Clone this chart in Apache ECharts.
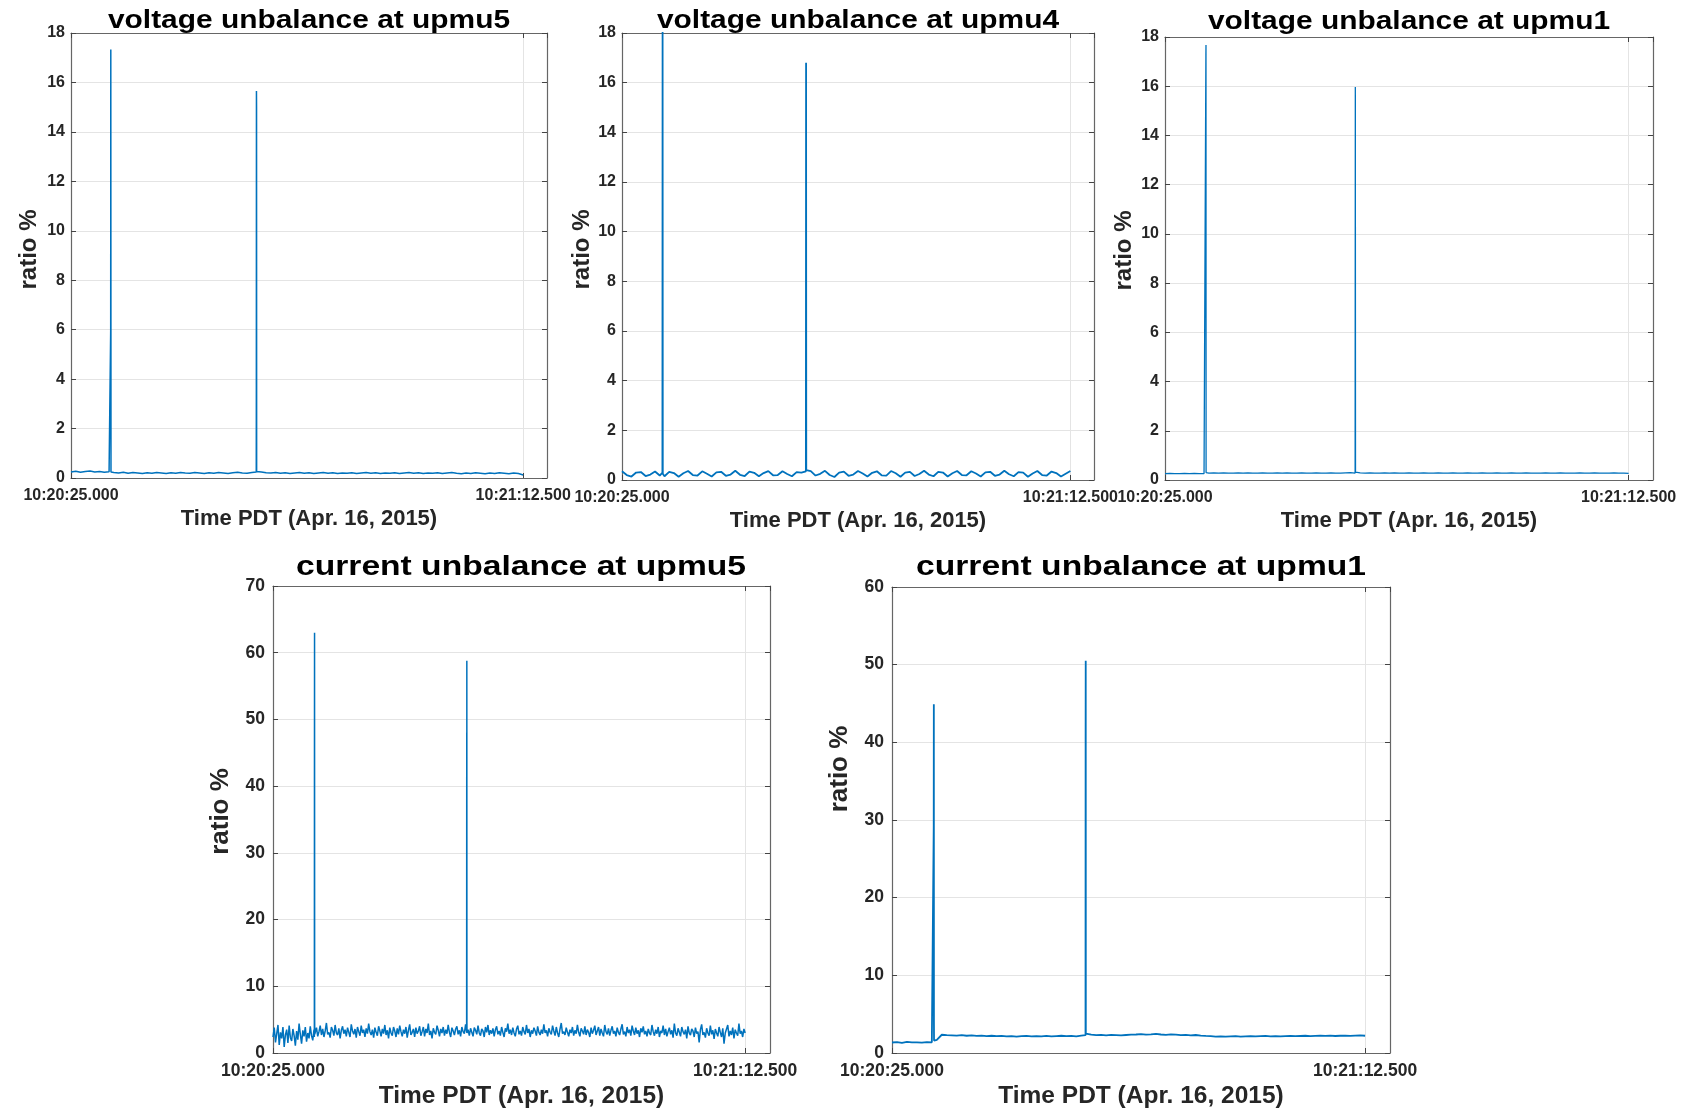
<!DOCTYPE html>
<html>
<head>
<meta charset="utf-8">
<title>unbalance at upmu</title>
<script src="https://cdn.jsdelivr.net/npm/echarts@6/dist/echarts.min.js"></script>
<style>
html, body { margin: 0; padding: 0; background: #fff; }
#main { width: 1689px; height: 1110px; }
</style>
</head>
<body>
<div id="main"></div>
<script>
// time is seconds after 10:20:25.000, baselines are read at a fixed step
var dtSlow = 0.5;
var dtFast = 0.125;
var xTickValues = [0, 47.5];
var xTickLabels = ['10:20:25.000', '10:21:12.500'];

var titles = [
    'voltage unbalance at upmu5',
    'voltage unbalance at upmu4',
    'voltage unbalance at upmu1',
    'current unbalance at upmu5',
    'current unbalance at upmu1'
];
var yMax = [18, 18, 18, 70, 60];
var yStep = [2, 2, 2, 10, 10];

var vu5Base = [
    0.24,0.27,0.23,0.26,0.28,0.24,0.26,0.23,0.25,0.22,
    0.2,0.23,0.19,0.22,0.2,0.18,0.21,0.19,0.22,0.2,
    0.18,0.21,0.19,0.22,0.2,0.19,0.22,0.2,0.18,0.21,
    0.19,0.22,0.2,0.18,0.21,0.23,0.2,0.19,0.22,0.26,
    0.24,0.21,0.2,0.22,0.19,0.21,0.18,0.2,0.22,0.19,
    0.21,0.18,0.2,0.22,0.19,0.21,0.18,0.2,0.19,0.21,
    0.18,0.2,0.22,0.19,0.21,0.18,0.2,0.19,0.21,0.18,
    0.2,0.22,0.19,0.21,0.18,0.2,0.19,0.21,0.18,0.2,
    0.22,0.19,0.17,0.2,0.18,0.21,0.19,0.17,0.2,0.18,
    0.21,0.19,0.17,0.2,0.18,0.12
];
var vu5Spikes = [
    [4.16, 0.25], [4.17, 6.0], [4.18, 17.33], [4.19, 8.8], [4.2, 0.24],
    [19.46, 0.24], [19.47, 3.8], [19.48, 15.65], [19.49, 15.0], [19.51, 0.26]
];

var vu4Base = [
    0.35,0.2,0.14,0.3,0.32,0.16,0.22,0.34,0.18,0.15,
    0.33,0.28,0.13,0.27,0.36,0.2,0.18,0.35,0.25,0.14,
    0.31,0.33,0.17,0.22,0.37,0.21,0.16,0.34,0.29,0.15,
    0.28,0.36,0.19,0.2,0.35,0.24,0.15,0.32,0.3,0.4,
    0.36,0.18,0.25,0.37,0.2,0.12,0.3,0.34,0.17,0.22,
    0.36,0.26,0.14,0.29,0.35,0.19,0.18,0.36,0.27,0.13,
    0.3,0.33,0.16,0.24,0.37,0.22,0.15,0.33,0.3,0.14,
    0.27,0.36,0.2,0.19,0.35,0.26,0.14,0.31,0.33,0.17,
    0.22,0.37,0.23,0.15,0.32,0.3,0.13,0.26,0.36,0.2,
    0.18,0.34,0.28,0.14,0.25,0.36
];
var vu4Spikes = [
    [4.28, 0.3], [4.3, 18.4], [4.32, 0.25],
    [19.48, 0.35], [19.5, 16.8], [19.52, 0.4]
];

var vu1Base = [
    0.26,0.27,0.26,0.26,0.27,0.26,0.27,0.26,0.26,0.28,
    0.29,0.28,0.29,0.28,0.28,0.29,0.28,0.29,0.28,0.28,
    0.29,0.28,0.28,0.29,0.28,0.29,0.28,0.28,0.29,0.28,
    0.28,0.29,0.28,0.28,0.29,0.28,0.28,0.29,0.3,0.3,
    0.29,0.28,0.29,0.28,0.28,0.29,0.28,0.29,0.28,0.28,
    0.29,0.28,0.28,0.29,0.28,0.28,0.29,0.28,0.28,0.29,
    0.28,0.28,0.29,0.28,0.28,0.29,0.28,0.28,0.29,0.28,
    0.28,0.29,0.28,0.28,0.29,0.28,0.28,0.28,0.29,0.28,
    0.28,0.29,0.28,0.28,0.28,0.29,0.28,0.28,0.29,0.28,
    0.28,0.28,0.29,0.28,0.28,0.27
];
var vu1Spikes = [
    [4.18, 0.26], [4.19, 17.3], [4.2, 17.67], [4.21, 0.3],
    [19.48, 0.28], [19.5, 15.97], [19.52, 0.32]
];

var cu5Base = [
    2.4,3.8,1.6,2.9,4.2,1.2,3.1,2.2,3.9,0.9,2.7,3.5,1.5,4.1,2.3,1.8,3.6,2.6,1.1,3.3,
    2.0,4.4,2.8,1.4,3.4,2.5,3.9,1.7,3.0,2.2,4.0,2.6,1.9,3.5,2.9,3.8,2.5,3.2,4.1,2.7,
    3.6,2.4,3.3,4.5,2.8,3.1,2.3,3.9,3.4,2.6,4.2,3.0,2.7,3.7,2.2,3.4,4.0,2.9,3.5,2.5,
    3.8,3.1,2.4,4.3,3.3,2.8,3.6,2.3,3.9,3.2,2.6,4.1,3.0,3.5,2.4,3.7,2.9,4.4,3.2,2.7,
    3.5,2.3,3.8,3.1,2.6,4.0,3.3,2.5,3.6,2.9,4.2,2.7,3.4,2.2,3.8,3.0,2.6,3.9,3.3,2.4,
    3.7,2.8,4.1,3.2,2.5,3.5,2.9,3.9,2.3,3.4,4.3,2.7,3.1,3.6,2.4,3.8,2.9,3.3,4.0,2.6,
    3.2,3.9,2.5,3.6,3.0,4.4,2.7,3.3,2.2,3.7,3.1,2.8,4.1,3.4,2.5,3.6,3.0,3.9,2.6,3.5,
    2.9,4.2,3.1,2.4,3.8,3.3,2.7,3.6,4.0,2.8,3.4,2.5,3.9,3.2,2.9,4.3,3.0,3.5,2.6,3.7,
    3.1,2.5,3.8,3.4,2.8,4.1,3.0,2.6,3.6,3.3,2.4,3.9,3.1,4.2,2.7,3.4,2.9,3.7,2.5,3.5,
    4.0,2.8,3.3,2.6,3.9,3.1,2.4,3.7,3.2,4.4,2.9,3.5,2.7,3.8,3.0,2.5,3.6,4.1,2.8,3.3,
    2.6,3.9,3.2,2.8,4.2,3.0,3.6,2.4,3.4,2.9,3.8,3.3,2.6,4.0,3.1,2.7,3.5,2.9,4.3,3.0,
    3.4,2.5,3.7,3.1,2.8,4.1,3.3,2.6,3.9,3.0,2.4,3.6,4.5,2.9,3.2,2.7,3.8,3.1,2.5,3.5,
    3.0,3.9,2.6,3.4,2.9,4.2,3.1,2.5,3.7,3.3,2.8,4.0,2.7,3.5,3.1,2.4,3.8,2.9,3.4,4.1,
    2.7,3.3,3.9,2.6,3.6,3.0,2.5,4.2,3.2,2.8,3.7,2.6,3.4,4.0,2.9,3.3,2.5,3.8,3.1,2.7,
    3.6,4.3,2.8,3.2,2.5,3.9,3.0,3.5,2.6,4.1,3.3,2.7,3.8,2.9,3.4,2.4,3.7,3.1,4.0,2.8,
    3.3,2.5,3.6,3.0,2.7,4.2,3.2,2.6,3.5,2.9,3.9,2.4,3.3,3.0,4.1,2.7,3.6,2.5,3.2,3.8,
    2.8,3.4,2.3,4.4,3.0,2.6,3.7,3.1,2.5,3.9,3.2,2.8,3.5,2.2,4.0,3.0,2.7,3.6,3.3,2.4,
    3.8,2.9,3.2,1.6,3.5,4.3,2.7,3.1,2.3,3.7,3.0,2.6,4.1,2.8,3.4,2.1,3.6,3.0,2.5,3.9,
    3.1,2.4,3.7,1.4,3.0,2.8,4.2,2.5,3.3,2.7,3.8,2.2,3.5,3.0,2.6,4.4,2.9,3.3,2.4,3.6,
    3.0
];
var cu5Spikes = [
    [4.16, 2.4], [4.17, 39.7], [4.18, 63.0], [4.19, 5.0], [4.2, 2.8],
    [19.48, 3.2], [19.49, 48.0], [19.5, 58.8], [19.51, 4.5], [19.52, 3.0]
];

var cu1Base = [
    1.35,1.4,1.3,1.42,1.36,1.38,1.33,1.4,1.37,1.7,
    2.35,2.3,2.28,2.25,2.3,2.22,2.26,2.2,2.24,2.18,
    2.22,2.16,2.2,2.14,2.18,2.12,2.17,2.2,2.14,2.18,
    2.15,2.2,2.13,2.18,2.22,2.16,2.2,2.15,2.24,2.3,
    2.36,2.3,2.34,2.28,2.33,2.3,2.26,2.32,2.36,2.38,
    2.42,2.36,2.4,2.45,2.38,2.34,2.4,2.36,2.3,2.34,
    2.28,2.32,2.25,2.2,2.16,2.12,2.14,2.1,2.13,2.16,
    2.12,2.15,2.18,2.14,2.17,2.2,2.15,2.18,2.14,2.17,
    2.2,2.16,2.19,2.22,2.18,2.21,2.24,2.2,2.23,2.19,
    2.22,2.25,2.2,2.23,2.26,2.22
];
var cu1Spikes = [
    [4.18, 1.38], [4.19, 29.3], [4.2, 44.9], [4.21, 4.0], [4.22, 1.6],
    [19.43, 2.3], [19.44, 40.4], [19.45, 50.5], [19.46, 2.5]
];

var bases = [vu5Base, vu4Base, vu1Base, cu5Base, cu1Base];
var steps = [dtSlow, dtSlow, dtSlow, dtFast, dtSlow];
var spikes = [vu5Spikes, vu4Spikes, vu1Spikes, cu5Spikes, cu1Spikes];

// plot boxes [left, top, width, height] and text placement
var boxes = [
    [71, 33, 476, 445],
    [622, 33, 472, 447],
    [1165, 37, 488, 443],
    [273, 586, 497, 468],
    [892, 587, 498, 469]
];
var titlePos = [[309, 21], [858, 21], [1409, 22], [521, 567], [1141, 567]];
var yNameGap = [30, 28, 29, 39, 39];
var yNameShift = [12, 14, 16, 16, 102];
var lineWidths = [1.5, 1.8, 1.3, 1.5, 1.8];

function buildData(base, dt, extra) {
    var pts = base.map(function (v, i) { return [i * dt, v]; });
    extra.forEach(function (p) { pts.push(p); });
    pts.sort(function (a, b) { return a[0] - b[0]; });
    return pts;
}

var font = '"Liberation Sans", Arial, Helvetica, sans-serif';
var ink = '#262626';
var boxLine = { show: true, onZero: false, lineStyle: { color: '#666', width: 1.2 } };
var inTick = { show: true, inside: true, length: 5, lineStyle: { color: '#444', width: 1 } };
var gridLine = { show: true, lineStyle: { color: '#e4e4e4', width: 1 } };

var grid = [], xAxis = [], yAxis = [], series = [], graphic = [];

for (var i = 0; i < 5; i++) {
    var b = boxes[i];
    var low = i >= 3;
    var tickSize = low ? 17.5 : 16;
    grid.push({ left: b[0], top: b[1], width: b[2], height: b[3] });

    xAxis.push({
        type: 'value', gridIndex: i, position: 'bottom',
        min: 0, max: 50, interval: 47.5,
        axisLine: boxLine, axisTick: inTick, splitLine: gridLine,
        axisLabel: {
            showMaxLabel: false, margin: low ? 9 : 10,
            fontSize: tickSize, fontWeight: 'bold', fontFamily: font, color: ink,
            formatter: function (v) {
                var k = xTickValues.indexOf(v);
                return k < 0 ? '' : xTickLabels[k];
            }
        },
        name: 'Time PDT (Apr. 16, 2015)', nameLocation: 'middle', nameGap: low ? 31 : 30,
        nameTextStyle: { fontSize: low ? 24.5 : 22, fontWeight: 'bold', fontFamily: font, color: ink }
    });
    xAxis.push({
        type: 'value', gridIndex: i, position: 'top',
        min: 0, max: 50, interval: 47.5,
        axisLine: boxLine, axisTick: inTick,
        axisLabel: { show: false }, splitLine: { show: false }
    });

    yAxis.push({
        type: 'value', gridIndex: i, position: 'left',
        min: 0, max: yMax[i], interval: yStep[i],
        axisLine: boxLine, axisTick: inTick, splitLine: gridLine,
        axisLabel: {
            margin: low ? 8 : 6,
            fontSize: tickSize, fontWeight: 'bold', fontFamily: font, color: ink
        },
        name: 'ratio %', nameLocation: 'middle', nameRotate: 90, nameGap: yNameGap[i],
        nameTextStyle: {
            fontSize: low ? 26 : 24, fontWeight: 'bold', fontFamily: font, color: ink,
            padding: [0, 0, 0, yNameShift[i]]
        }
    });
    yAxis.push({
        type: 'value', gridIndex: i, position: 'right',
        min: 0, max: yMax[i], interval: yStep[i],
        axisLine: boxLine, axisTick: inTick,
        axisLabel: { show: false }, splitLine: { show: false }
    });

    series.push({
        type: 'line', xAxisIndex: 2 * i, yAxisIndex: 2 * i,
        data: buildData(bases[i], steps[i], spikes[i]),
        symbol: 'none', showSymbol: false,
        lineStyle: { color: '#0072BD', width: lineWidths[i] },
        clip: true
    });

    graphic.push({
        type: 'text', x: titlePos[i][0], y: titlePos[i][1],
        scaleX: low ? 1.2 : 1.15,
        style: {
            text: titles[i],
            font: 'bold ' + (low ? 28 : 26) + 'px ' + font,
            fill: '#000',
            align: 'center', verticalAlign: 'middle',
            textAlign: 'center', textVerticalAlign: 'middle'
        }
    });
}

var myChart = echarts.init(document.getElementById('main'));
myChart.setOption({
    animation: false,
    backgroundColor: '#fff',
    grid: grid,
    xAxis: xAxis,
    yAxis: yAxis,
    series: series,
    graphic: graphic
});
</script>
</body>
</html>
